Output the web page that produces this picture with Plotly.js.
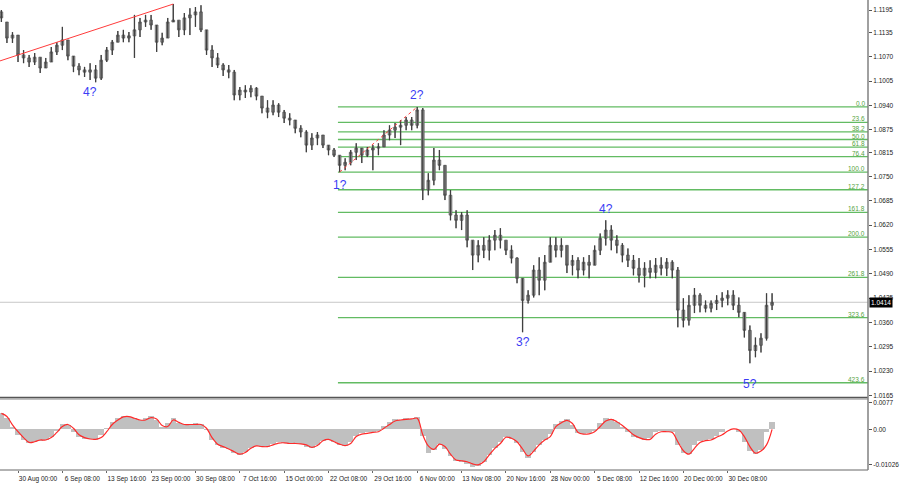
<!DOCTYPE html>
<html>
<head>
<meta charset="utf-8">
<script src="https://cdn.plot.ly/plotly-3.0.1.min.js"></script>
<style>html,body{margin:0;padding:0;background:#fff;}#chart{width:900px;height:485px;}</style>
</head>
<body>
<div id="chart"></div>
<script>
// 16-hour candles (EURUSD)
const open = [1.1190,1.1163,1.1120,1.1128,1.1075,1.1067,1.1056,1.1069,1.1040,1.1056,
1.1083,1.1101,1.1115,1.1072,1.1045,1.1035,1.1029,1.1035,1.1013,1.1061,
1.1088,1.1109,1.1128,1.1120,1.1126,1.1142,1.1163,1.1168,1.1155,1.1109,
1.1120,1.1163,1.1168,1.1142,1.1174,1.1182,1.1190,1.1142,1.1088,1.1067,
1.1048,1.1035,1.1029,1.0968,1.0981,1.0976,1.0986,1.0965,1.0933,1.0922,
1.0941,1.0922,1.0906,1.0901,1.0879,1.0869,1.0834,1.0853,1.0861,1.0834,
1.0821,1.0807,1.0780,1.0788,1.0815,1.0826,1.0807,1.0821,1.0826,1.0829,
1.0861,1.0874,1.0882,1.0887,1.0901,1.0887,1.0928,1.0714,1.0740,1.0794,
1.0780,1.0700,1.0647,1.0633,1.0647,1.0580,1.0540,1.0566,1.0553,1.0580,
1.0593,1.0580,1.0553,1.0532,1.0478,1.0419,1.0433,1.0500,1.0473,1.0521,
1.0566,1.0553,1.0566,1.0513,1.0526,1.0500,1.0521,1.0513,1.0553,1.0585,
1.0607,1.0580,1.0566,1.0540,1.0526,1.0505,1.0486,1.0505,1.0494,1.0513,
1.0505,1.0521,1.0500,1.0393,1.0366,1.0406,1.0433,1.0406,1.0398,1.0411,
1.0419,1.0425,1.0433,1.0406,1.0387,1.0339,1.0285,1.0299,1.0318,1.0406];
const high = [1.1195,1.1163,1.1136,1.1128,1.1088,1.1075,1.1080,1.1069,1.1067,1.1096,
1.1109,1.1150,1.1115,1.1072,1.1053,1.1043,1.1053,1.1048,1.1075,1.1096,
1.1115,1.1139,1.1142,1.1136,1.1182,1.1174,1.1182,1.1182,1.1155,1.1134,
1.1174,1.1211,1.1168,1.1187,1.1200,1.1203,1.1208,1.1142,1.1101,1.1080,
1.1053,1.1048,1.1035,1.0989,1.0994,1.0994,1.0989,1.0965,1.0954,1.0954,
1.0946,1.0928,1.0919,1.0901,1.0887,1.0874,1.0866,1.0869,1.0861,1.0834,
1.0826,1.0807,1.0799,1.0821,1.0839,1.0826,1.0829,1.0834,1.0839,1.0874,
1.0887,1.0893,1.0901,1.0909,1.0909,1.0936,1.0933,1.0759,1.0826,1.0821,
1.0780,1.0714,1.0660,1.0655,1.0660,1.0580,1.0580,1.0588,1.0593,1.0607,
1.0612,1.0580,1.0566,1.0534,1.0478,1.0446,1.0513,1.0534,1.0540,1.0588,
1.0588,1.0585,1.0566,1.0540,1.0534,1.0534,1.0540,1.0566,1.0598,1.0633,
1.0620,1.0593,1.0572,1.0558,1.0540,1.0532,1.0521,1.0526,1.0532,1.0534,
1.0532,1.0526,1.0508,1.0425,1.0433,1.0452,1.0438,1.0419,1.0419,1.0433,
1.0441,1.0446,1.0446,1.0427,1.0387,1.0352,1.0320,1.0331,1.0438,1.0438];
const low = [1.1163,1.1107,1.1107,1.1056,1.1053,1.1043,1.1048,1.1027,1.1040,1.1056,
1.1075,1.1088,1.1061,1.1029,1.1021,1.1016,1.1008,1.1002,1.1008,1.1056,
1.1075,1.1109,1.1109,1.1109,1.1067,1.1123,1.1150,1.1142,1.1083,1.1101,
1.1120,1.1163,1.1123,1.1128,1.1128,1.1150,1.1136,1.1075,1.1043,1.1040,
1.1019,1.1013,1.0954,1.0954,1.0960,1.0962,1.0954,1.0919,1.0906,1.0914,
1.0909,1.0893,1.0887,1.0866,1.0855,1.0815,1.0821,1.0834,1.0826,1.0807,
1.0802,1.0762,1.0767,1.0780,1.0794,1.0786,1.0802,1.0767,1.0807,1.0829,
1.0847,1.0853,1.0834,1.0874,1.0874,1.0879,1.0687,1.0700,1.0727,1.0767,
1.0687,1.0633,1.0612,1.0607,1.0561,1.0500,1.0521,1.0532,1.0526,1.0553,
1.0558,1.0540,1.0518,1.0465,1.0334,1.0411,1.0427,1.0433,1.0446,1.0521,
1.0534,1.0534,1.0492,1.0486,1.0478,1.0486,1.0478,1.0513,1.0540,1.0566,
1.0553,1.0545,1.0521,1.0508,1.0486,1.0467,1.0454,1.0478,1.0478,1.0486,
1.0484,1.0478,1.0347,1.0347,1.0352,1.0385,1.0387,1.0387,1.0387,1.0393,
1.0401,1.0406,1.0393,1.0374,1.0320,1.0251,1.0267,1.0280,1.0312,1.0393];
const close = [1.1174,1.1120,1.1128,1.1075,1.1067,1.1056,1.1069,1.1040,1.1056,1.1083,
1.1101,1.1115,1.1072,1.1045,1.1035,1.1029,1.1035,1.1013,1.1061,1.1088,
1.1109,1.1128,1.1120,1.1126,1.1142,1.1163,1.1168,1.1155,1.1109,1.1120,
1.1163,1.1168,1.1142,1.1174,1.1182,1.1190,1.1142,1.1088,1.1067,1.1048,
1.1035,1.1029,1.0968,1.0981,1.0976,1.0986,1.0965,1.0933,1.0922,1.0941,
1.0922,1.0906,1.0901,1.0879,1.0869,1.0834,1.0853,1.0861,1.0834,1.0821,
1.0807,1.0780,1.0788,1.0815,1.0826,1.0807,1.0821,1.0826,1.0829,1.0861,
1.0874,1.0882,1.0887,1.0901,1.0887,1.0928,1.0714,1.0740,1.0794,1.0780,
1.0700,1.0647,1.0633,1.0647,1.0580,1.0540,1.0566,1.0553,1.0580,1.0593,
1.0580,1.0553,1.0532,1.0478,1.0419,1.0433,1.0500,1.0473,1.0521,1.0566,
1.0553,1.0566,1.0513,1.0526,1.0500,1.0521,1.0513,1.0553,1.0585,1.0607,
1.0580,1.0566,1.0540,1.0526,1.0505,1.0486,1.0505,1.0494,1.0513,1.0505,
1.0521,1.0500,1.0393,1.0366,1.0406,1.0433,1.0406,1.0398,1.0411,1.0419,
1.0425,1.0433,1.0406,1.0387,1.0339,1.0285,1.0299,1.0318,1.0406,1.0414];

// MACD main (histogram) and signal
const macd = [0.0046,0.0032,0.0008,-0.0016,-0.0031,-0.0041,-0.0036,-0.0034,-0.0031,-0.0021,
-0.0005,0.0014,0.0013,-0.0007,-0.0021,-0.0028,-0.0029,-0.0031,-0.0016,0.0003,
0.0022,0.0034,0.0040,0.0037,0.0032,0.0027,0.0034,0.0040,0.0027,0.0008,
0.0017,0.0034,0.0017,0.0014,0.0016,0.0017,0.0014,-0.0002,-0.0031,-0.0045,
-0.0053,-0.0057,-0.0069,-0.0074,-0.0065,-0.0053,-0.0047,-0.0050,-0.0050,-0.0043,
-0.0038,-0.0041,-0.0042,-0.0042,-0.0043,-0.0050,-0.0055,-0.0045,-0.0034,-0.0031,
-0.0038,-0.0045,-0.0047,-0.0036,-0.0018,-0.0012,-0.0009,-0.0007,-0.0005,0.0011,
0.0020,0.0030,0.0027,0.0032,0.0030,0.0037,-0.0020,-0.0069,-0.0060,-0.0043,
-0.0058,-0.0076,-0.0092,-0.0094,-0.0101,-0.0108,-0.0105,-0.0094,-0.0074,-0.0055,
-0.0038,-0.0021,-0.0028,-0.0041,-0.0067,-0.0082,-0.0067,-0.0045,-0.0031,-0.0014,
0.0014,0.0024,0.0030,0.0013,-0.0012,-0.0014,-0.0012,-0.0005,0.0017,0.0032,
0.0030,0.0020,0.0008,-0.0009,-0.0021,-0.0026,-0.0031,-0.0024,-0.0009,-0.0005,
-0.0007,-0.0009,-0.0045,-0.0069,-0.0072,-0.0045,-0.0034,-0.0031,-0.0028,-0.0018,
-0.0009,0.0001,0.0001,-0.0007,-0.0036,-0.0063,-0.0072,-0.0060,-0.0007,0.0020];
const signal = [0.0046,0.0037,0.0013,-0.0007,-0.0024,-0.0038,-0.0036,-0.0031,-0.0031,-0.0024,
-0.0009,0.0008,0.0014,0.0003,-0.0016,-0.0024,-0.0028,-0.0029,-0.0024,-0.0007,
0.0014,0.0027,0.0036,0.0037,0.0032,0.0027,0.0027,0.0034,0.0030,0.0011,
0.0008,0.0027,0.0020,0.0014,0.0014,0.0014,0.0014,0.0003,-0.0024,-0.0043,
-0.0050,-0.0057,-0.0065,-0.0072,-0.0067,-0.0055,-0.0048,-0.0050,-0.0050,-0.0045,
-0.0040,-0.0039,-0.0041,-0.0041,-0.0042,-0.0045,-0.0052,-0.0047,-0.0033,-0.0029,
-0.0036,-0.0043,-0.0047,-0.0041,-0.0021,-0.0014,-0.0012,-0.0009,-0.0007,0.0003,
0.0014,0.0024,0.0027,0.0029,0.0030,0.0032,-0.0016,-0.0048,-0.0058,-0.0043,
-0.0050,-0.0072,-0.0089,-0.0091,-0.0094,-0.0100,-0.0103,-0.0094,-0.0074,-0.0055,
-0.0041,-0.0023,-0.0026,-0.0036,-0.0057,-0.0077,-0.0063,-0.0045,-0.0031,-0.0021,
0.0008,0.0019,0.0026,0.0017,-0.0009,-0.0014,-0.0013,-0.0007,0.0008,0.0024,
0.0029,0.0022,0.0011,-0.0002,-0.0016,-0.0024,-0.0029,-0.0029,-0.0014,-0.0007,
-0.0007,-0.0009,-0.0036,-0.0062,-0.0072,-0.0055,-0.0038,-0.0033,-0.0031,-0.0023,
-0.0016,-0.0005,0.0001,-0.0002,-0.0021,-0.0050,-0.0069,-0.0063,-0.0045,0.0000];

// axis labels
const dateTickPos = [3,11,19,27,35,43,51,59,67,75,83,91,99,107,115,123,131];
const dateTickText = ["30 Aug 00:00","6 Sep 08:00","13 Sep 16:00","23 Sep 00:00","30 Sep 08:00",
 "7 Oct 16:00","15 Oct 00:00","22 Oct 08:00","29 Oct 16:00","6 Nov 00:00","13 Nov 08:00",
 "20 Nov 16:00","28 Nov 00:00","5 Dec 08:00","12 Dec 16:00","20 Dec 00:00","30 Dec 08:00"];
const priceTickText = ["1.1195","1.1135","1.1070","1.1005","1.0940","1.0875","1.0815","1.0750",
 "1.0685","1.0620","1.0555","1.0490","1.0425","1.0360","1.0295","1.0230","1.0165"];
const macdTickText = ["0.0077","0.00","-0.01026"];

// Fibonacci levels (from wave 1? low to wave 2? high)
const fibLevels = [0.0,23.6,38.2,50.0,61.8,76.4,100.0,127.2,161.8,200.0,261.8,323.6,423.6];
const fibLabels = ["0.0","23.6","38.2","50.0","61.8","76.4","100.0","127.2","161.8","200.0","261.8","323.6","423.6"];
const fibStart = 61, fibEnd = 75;

// wave labels: text, candle index, above/below
const waveText = ["4?","1?","2?","3?","4?","5?"];
const waveIdx  = [16, 61, 75, 94, 109, 135];
const waveSide = ["below","below","above","below","above","below"];
const waveShift= [-3, -4, 3, -1, 2, -12];

const lastPrice = 1.0414;

const idx = open.map((_, k) => k);
const XMIN = -0.25, XMAX = 156.3;
const FONT = "Liberation Sans, Arial, sans-serif";

const traces = [
  {type:'candlestick', x: idx, open, high, low, close, xaxis:'x', yaxis:'y',
   increasing:{line:{color:'#5a5a5a', width:0.8}, fillcolor:'#b4b4b4'},
   decreasing:{line:{color:'#5a5a5a', width:0.8}, fillcolor:'#b4b4b4'},
   whiskerwidth:0, hoverinfo:'skip', showlegend:false},
  {type:'ohlc', x: idx, open, high, low, close, xaxis:'x', yaxis:'y', tickwidth:0,
   increasing:{line:{color:'#404040', width:1.3}},
   decreasing:{line:{color:'#404040', width:1.3}},
   hoverinfo:'skip', showlegend:false},
  {type:'bar', x: idx, y: macd, xaxis:'x', yaxis:'y2', width:1,
   marker:{color:'#c0c0c0', line:{width:0}}, hoverinfo:'skip', showlegend:false},
  {type:'scatter', mode:'lines', x: idx, y: signal, xaxis:'x', yaxis:'y2',
   line:{color:'#ff2a2a', width:1.2, shape:'spline'}, hoverinfo:'skip', showlegend:false}
];

const fHigh = high[fibEnd], fLow = low[fibStart];
const shapes = [];
const annotations = [];
fibLevels.forEach((lv, k) => {
  const p = fHigh - lv / 100 * (fHigh - fLow);
  shapes.push({type:'line', xref:'x', yref:'y', x0: fibStart - 0.3, x1: XMAX, y0: p, y1: p,
    line:{color:'#62bb62', width:1.3}, layer:'below'});
  annotations.push({xref:'paper', yref:'y', x:1, y:p, xanchor:'right', yanchor:'bottom',
    xshift:-1, yshift:-2, text: fibLabels[k], showarrow:false,
    font:{family:FONT, size:6.5, color:'#56a340'}});
});
// current price line
shapes.push({type:'line', xref:'paper', yref:'y', x0:0, x1:1, y0:lastPrice, y1:lastPrice,
  line:{color:'#c8c8c8', width:1}, layer:'below'});
// trend line through the August-September highs
shapes.push({type:'line', xref:'x', yref:'y', x0:XMIN, y0:1.1059, x1:31, y1:high[31],
  line:{color:'#ff3b3b', width:1}});
// dotted line wave 1 -> wave 2
shapes.push({type:'line', xref:'x', yref:'y', x0:fibStart, y0:fLow, x1:fibEnd, y1:fHigh,
  line:{color:'#ff4040', width:1, dash:'dot'}});
// panel borders
shapes.push({type:'line', xref:'paper', yref:'paper', x0:0, x1:1, y0:0.1545, y1:0.1545,
  line:{color:'#555', width:1.5}});
shapes.push({type:'line', xref:'paper', yref:'paper', x0:0, x1:1, y0:0.151, y1:0.151,
  line:{color:'#888', width:1}});
shapes.push({type:'line', xref:'paper', yref:'paper', x0:0, x1:1, y0:0, y1:0,
  line:{color:'#666', width:1}});
shapes.push({type:'line', xref:'paper', yref:'paper', x0:1, x1:1, y0:0, y1:1,
  line:{color:'#808080', width:1.5}});

waveText.forEach((t, k) => {
  const j = waveIdx[k];
  const above = waveSide[k] === 'above';
  annotations.push({xref:'x', yref:'y', x: j, y: above ? high[j] : low[j],
    yanchor: above ? 'bottom' : 'top', yshift: waveShift[k], text: t, showarrow:false,
    font:{family:FONT, size:12, color:'#3c3cf5'}});
});
annotations.push({xref:'paper', yref:'y', x:1, y:lastPrice, xanchor:'left', xshift:1,
  text: lastPrice.toFixed(4), showarrow:false, bgcolor:'#000', borderpad:1,
  font:{family:FONT, size:6.5, color:'#fff'}});

const layout = {
  width:900, height:485,
  margin:{l:0, r:32, t:0, b:15},
  paper_bgcolor:'#fff', plot_bgcolor:'#fff',
  showlegend:false, bargap:0,
  font:{family:FONT, size:6.5, color:'#222'},
  xaxis:{range:[XMIN, XMAX], anchor:'y2', showgrid:false, zeroline:false, showline:false,
    rangeslider:{visible:false}, tickmode:'array', tickvals: dateTickPos, ticktext: dateTickText,
    ticks:'outside', ticklen:2, tickcolor:'#666', ticklabelshift:20,
    tickfont:{family:FONT, size:6.5, color:'#222'}},
  yaxis:{domain:[0.1545, 1], side:'right', anchor:'x', range:[1.01598, 1.12218],
    showgrid:false, zeroline:false, showline:false,
    tickmode:'array', tickvals: priceTickText.map(Number), ticktext: priceTickText,
    ticks:'outside', ticklen:3, tickcolor:'#555',
    tickfont:{family:FONT, size:6.5, color:'#222'}},
  yaxis2:{domain:[0, 0.151], side:'right', anchor:'x', range:[-0.01178, 0.00877],
    showgrid:false, zeroline:false, showline:false,
    tickmode:'array', tickvals: macdTickText.map(Number), ticktext: macdTickText,
    ticks:'outside', ticklen:3, tickcolor:'#555',
    tickfont:{family:FONT, size:6.5, color:'#222'}},
  shapes, annotations
};

Plotly.newPlot('chart', traces, layout, {staticPlot:true, displayModeBar:false});
</script>
</body>
</html>
